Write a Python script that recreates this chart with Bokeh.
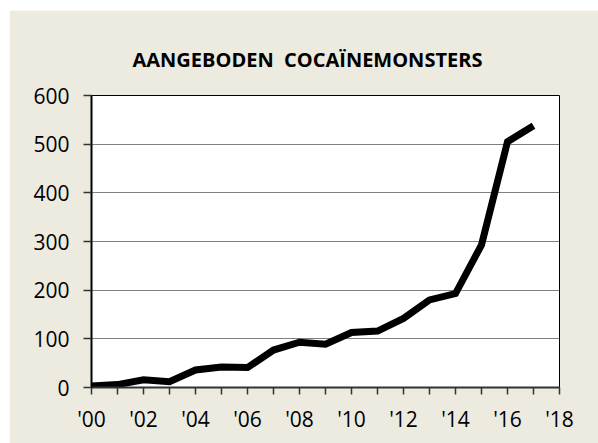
from bokeh.plotting import figure
from bokeh.models import FixedTicker, Range1d
from bokeh.embed import file_html
from bokeh.resources import INLINE

title_text = "AANGEBODEN \u00a0COCAÏNEMONSTERS"
years = [0, 1, 2, 3, 4, 5, 6, 7, 8, 9, 10, 11, 12, 13, 14, 15, 16, 17]
samples = [3, 6, 16, 12, 36, 42, 41, 77, 93, 89, 113, 116, 142, 180, 193, 293, 505, 538]
x_ticks = [0, 2, 4, 6, 8, 10, 12, 14, 16, 18]
x_tick_labels = ["'00", "'02", "'04", "'06", "'08", "'10", "'12", "'14", "'16", "'18"]
x_minor = [1, 3, 5, 7, 9, 11, 13, 15, 17]
y_ticks = [0, 100, 200, 300, 400, 500, 600]

BG = "#EDEAE0"
FONT = "Open Sans"

p = figure(width=589, height=433, output_backend="svg", toolbar_location=None,
           x_range=Range1d(0, 18), y_range=Range1d(0, 600))
p.margin = (10, 0, 0, 9)
p.border_fill_color = BG
p.background_fill_color = "white"
p.outline_line_color = "black"
p.outline_line_width = 1
p.min_border_left = 82
p.min_border_right = 39
p.min_border_top = 85
p.min_border_bottom = 56

p.title.text = title_text
p.title.text_font = FONT
p.title.text_font_size = "20px"
p.title.text_font_style = "bold"
p.title.text_color = "black"
p.title.align = "left"
p.title.offset = 41
p.title.standoff = 45

p.line(years, samples, line_color="black", line_width=7, line_join="miter")

# grid
p.xgrid.visible = False
p.ygrid.ticker = FixedTicker(ticks=y_ticks)
p.ygrid.grid_line_color = "black"
p.ygrid.grid_line_dash = "1 1"
p.ygrid.grid_line_width = 1
p.ygrid.grid_line_alpha = 1.0

# x axis
xa = p.xaxis[0]
xa.ticker = FixedTicker(ticks=x_ticks, minor_ticks=x_minor)
xa.major_label_overrides = {t: l for t, l in zip(x_ticks, x_tick_labels)}
xa.major_tick_in = 0
xa.major_tick_out = 7
xa.minor_tick_in = 0
xa.minor_tick_out = 7
xa.major_tick_line_color = "#333333"
xa.minor_tick_line_color = "#333333"
xa.major_tick_line_width = 1.5
xa.minor_tick_line_width = 1.5
xa.axis_line_color = "#333333"
xa.axis_line_width = 2
xa.major_label_text_font = FONT
xa.major_label_text_font_size = "21px"
xa.major_label_text_color = "black"
xa.major_label_standoff = 10

# y axis
ya = p.yaxis[0]
ya.ticker = FixedTicker(ticks=y_ticks)
ya.major_tick_in = 0
ya.major_tick_out = 8
ya.minor_tick_line_color = None
ya.major_tick_line_color = "#333333"
ya.major_tick_line_width = 1.5
ya.axis_line_color = "black"
ya.axis_line_width = 2
ya.major_label_text_font = FONT
ya.major_label_text_font_size = "21px"
ya.major_label_text_color = "black"
ya.major_label_standoff = 14

open("out.html", "w").write(file_html(p, INLINE))
